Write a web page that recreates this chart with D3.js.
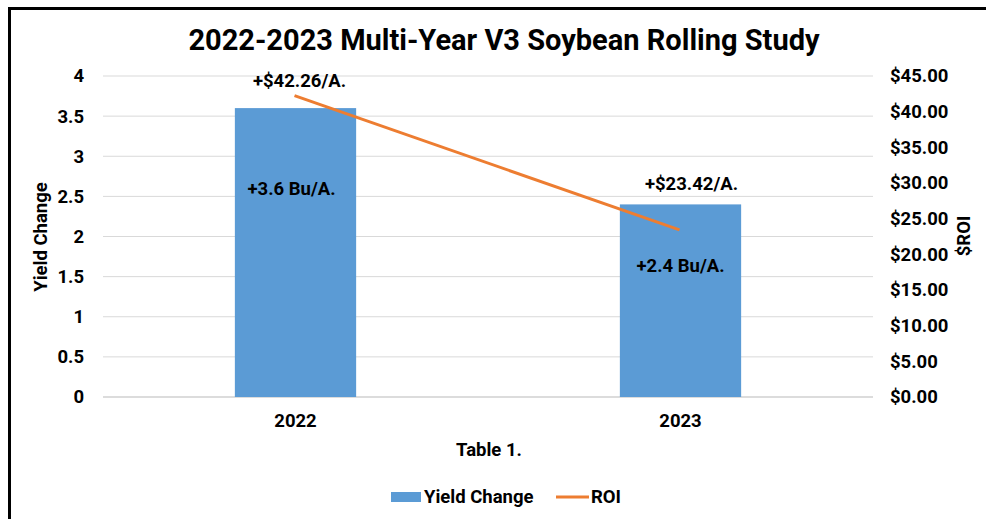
<!DOCTYPE html>
<html><head><meta charset="utf-8">
<script src="https://cdn.jsdelivr.net/npm/d3@7"></script>
<style>
body{margin:0;background:#fff;}
svg{display:block;font-family:Roboto, "Noto Sans", sans-serif;}
</style></head>
<body>
<svg id="c" width="986" height="519"></svg>
<script>
const categories = ["2022", "2023"];
const yieldChange = [3.6, 2.4];
const roi = [42.26, 23.42];
const yieldLabels = ["+3.6 Bu/A.", "+2.4 Bu/A."];
const roiLabels = ["+$42.26/A.", "+$23.42/A."];
const leftTicks = [0, 0.5, 1, 1.5, 2, 2.5, 3, 3.5, 4];
const rightTicks = [0, 5, 10, 15, 20, 25, 30, 35, 40, 45];

const FS = 18.5;
const svg = d3.select("#c");
const L = 103, R = 873, T = 76, B = 397;

svg.append("path").attr("d", "M9.5,519 L9.5,8.5 L986,8.5").attr("fill","none").attr("stroke","#000").attr("stroke-width",3);

const x = d3.scaleBand().domain(categories).range([L, R]).padding(0);
const y = d3.scaleLinear().domain([0, 4]).range([B, T]);
const y2 = d3.scaleLinear().domain([0, 45]).range([B, T]);

svg.append("g").selectAll("line").data(leftTicks).join("line")
  .attr("x1", L).attr("x2", R).attr("y1", d => y(d)).attr("y2", d => y(d))
  .attr("stroke", d => d === 0 ? "#d0d0d0" : "#d9d9d9").attr("stroke-width", d => d === 0 ? 1.5 : 1);

const la = svg.append("g").attr("transform", `translate(${L},0)`)
  .call(d3.axisLeft(y).tickValues(leftTicks).tickSize(0).tickPadding(19).tickFormat(d3.format("")));
la.select(".domain").remove();
la.selectAll("text").attr("font-size", FS).attr("font-weight", "bold").attr("fill", "#000").attr("font-family","Roboto");

const ra = svg.append("g").attr("transform", `translate(${R},0)`)
  .call(d3.axisRight(y2).tickValues(rightTicks).tickSize(0).tickPadding(17).tickFormat(d => "$" + d.toFixed(2)));
ra.select(".domain").remove();
ra.selectAll("text").attr("font-size", FS).attr("font-weight", "bold").attr("fill", "#000").attr("font-family","Roboto");

const xa = svg.append("g").attr("transform", `translate(0,${B})`)
  .call(d3.axisBottom(x).tickSize(0).tickPadding(17));
xa.select(".domain").remove();
xa.selectAll("text").attr("font-size", FS).attr("font-weight", "bold").attr("fill", "#000").attr("font-family","Roboto");

const bw = x.bandwidth() * 0.315;
svg.append("g").selectAll("rect").data(categories).join("rect")
  .attr("x", d => x(d) + x.bandwidth()/2 - bw/2)
  .attr("width", bw)
  .attr("y", (d,i) => y(yieldChange[i]))
  .attr("height", (d,i) => y(0) - y(yieldChange[i]))
  .attr("fill", "#5b9bd5");

const line = d3.line().x((d,i) => x(categories[i]) + x.bandwidth()/2 - 1).y(d => y2(d));
svg.append("path").datum(roi).attr("d", line).attr("fill","none").attr("stroke","#ed7d31").attr("stroke-width",3);

svg.append("g").selectAll("text").data(categories).join("text")
  .attr("x", (d,i) => x(d) + x.bandwidth()/2 + (i===0 ? -4 : 0))
  .attr("y", (d,i) => i===0 ? 195 : 272)
  .attr("text-anchor","middle").attr("font-size",FS).attr("font-weight","bold")
  .text((d,i) => yieldLabels[i]);

svg.append("g").selectAll("text").data(categories).join("text")
  .attr("x", (d,i) => x(d) + x.bandwidth()/2 + (i===0 ? 4 : 11))
  .attr("y", (d,i) => i===0 ? 87 : 190)
  .attr("text-anchor","middle").attr("font-size",FS).attr("font-weight","bold")
  .text((d,i) => roiLabels[i]);

svg.append("text").attr("x", 504).attr("y", 50).attr("text-anchor","middle")
  .attr("font-size", 29).attr("font-weight","bold").text("2022-2023 Multi-Year V3 Soybean Rolling Study");

svg.append("text").attr("transform","translate(47,237) rotate(-90)").attr("text-anchor","middle")
  .attr("font-size",FS).attr("font-weight","bold").text("Yield Change");
svg.append("text").attr("transform","translate(970,236) rotate(-90)").attr("text-anchor","middle")
  .attr("font-size",FS).attr("font-weight","bold").text("$ROI");
svg.append("text").attr("x", 489).attr("y", 456).attr("text-anchor","middle")
  .attr("font-size",FS).attr("font-weight","bold").text("Table 1.");

const lg = svg.append("g");
lg.append("rect").attr("x", 391).attr("y", 492).attr("width", 30).attr("height", 10).attr("fill","#5b9bd5");
lg.append("text").attr("x", 424).attr("y", 503).attr("font-size",FS).attr("font-weight","bold").text("Yield Change");
lg.append("line").attr("x1", 556).attr("x2", 589).attr("y1", 497).attr("y2", 497).attr("stroke","#ed7d31").attr("stroke-width",3);
lg.append("text").attr("x", 591).attr("y", 503).attr("font-size",FS).attr("font-weight","bold").text("ROI");
</script>
</body></html>
